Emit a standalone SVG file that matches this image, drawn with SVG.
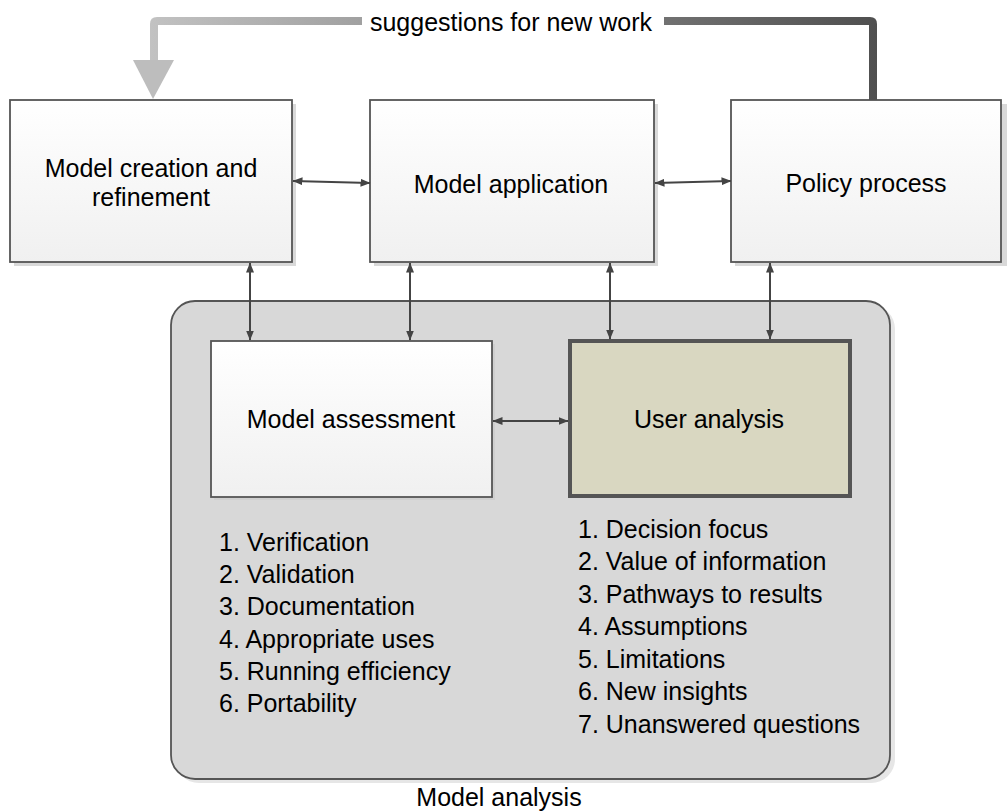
<svg xmlns="http://www.w3.org/2000/svg" width="1007" height="812" viewBox="0 0 1007 812">
<defs>
<linearGradient id="boxg" x1="0" y1="0" x2="0" y2="1">
<stop offset="0" stop-color="#ffffff"/>
<stop offset="1" stop-color="#f0f0f0"/>
</linearGradient>
<linearGradient id="sugg" gradientUnits="userSpaceOnUse" x1="150" y1="0" x2="880" y2="0">
<stop offset="0" stop-color="#c2c2c2"/>
<stop offset="1" stop-color="#4f4f4f"/>
</linearGradient>
<marker id="ah" viewBox="0 0 10 8" refX="9.5" refY="4" markerWidth="10" markerHeight="8" markerUnits="userSpaceOnUse" orient="auto-start-reverse">
<path d="M0,0 L10,4 L0,8 Z" fill="#444"/>
</marker>
</defs>
<style>
text{font-family:"Liberation Sans",Arial,sans-serif;font-size:25px;fill:#000}
.box{fill:url(#boxg);stroke:#555;stroke-width:1.8}
.shadow{fill:#d9d9d9}
.conn{stroke:#444;stroke-width:2;fill:none;marker-start:url(#ah);marker-end:url(#ah)}
.mid{text-anchor:middle}
</style>
<rect width="1007" height="812" fill="#ffffff"/>

<g id="model-analysis">
<rect x="175" y="305" width="720" height="478" rx="24" fill="#e6e6e6"/>
<rect x="171" y="301" width="719" height="478" rx="24" fill="#d8d8d8" stroke="#555" stroke-width="1.8"/>
<text x="499" y="806" class="mid">Model analysis</text>
</g>

<g id="model-creation">
<rect x="14" y="104" width="282" height="162" class="shadow"/>
<rect x="10" y="100" width="282" height="162" class="box"/>
<text x="151" y="177" class="mid">Model creation and</text>
<text x="151" y="206" class="mid">refinement</text>
</g>

<g id="model-application">
<rect x="374" y="104" width="284" height="162" class="shadow"/>
<rect x="370" y="100" width="284" height="162" class="box"/>
<text x="511" y="193" class="mid">Model application</text>
</g>

<g id="policy-process">
<rect x="735" y="104" width="272" height="162" class="shadow"/>
<rect x="731" y="100" width="270" height="162" class="box"/>
<text x="866" y="192" class="mid">Policy process</text>
</g>

<g id="model-assessment">
<rect x="214" y="344" width="281" height="156" fill="#cfcfcf"/>
<rect x="211" y="341" width="281" height="156" class="box"/>
<text x="351" y="428" class="mid">Model assessment</text>
<text x="219" y="551">1. Verification</text>
<text x="219" y="583">2. Validation</text>
<text x="219" y="615">3. Documentation</text>
<text x="219" y="648">4. Appropriate uses</text>
<text x="219" y="680">5. Running efficiency</text>
<text x="219" y="712">6. Portability</text>
</g>

<g id="user-analysis">
<rect x="570" y="341" width="280" height="155" fill="#d9d7c1" stroke="#555" stroke-width="4"/>
<text x="709" y="428" class="mid">User analysis</text>
<text x="578" y="538">1. Decision focus</text>
<text x="578" y="570">2. Value of information</text>
<text x="578" y="603">3. Pathways to results</text>
<text x="578" y="635">4. Assumptions</text>
<text x="578" y="668">5. Limitations</text>
<text x="578" y="700">6. New insights</text>
<text x="578" y="733">7. Unanswered questions</text>
</g>

<g id="connectors">
<line x1="293" y1="181" x2="370" y2="183" class="conn"/>
<line x1="655" y1="183" x2="731" y2="181" class="conn"/>
<line x1="250" y1="263" x2="250" y2="340" class="conn"/>
<line x1="410" y1="263" x2="410" y2="340" class="conn"/>
<line x1="610" y1="263" x2="610" y2="339" class="conn"/>
<line x1="770" y1="263" x2="770" y2="339" class="conn"/>
<line x1="493" y1="421" x2="568" y2="421" class="conn"/>
<g id="suggestions">
<path d="M873,100 L873,24 Q873,21 870,21 L157,21 Q154,21 154,24 L154,62" fill="none" stroke="url(#sugg)" stroke-width="8"/>
<path d="M133,60 L174,60 L153,99 Z" fill="#bdbdbd"/>
<rect x="362" y="8" width="302" height="27" fill="#ffffff"/>
<text x="511" y="31" class="mid">suggestions for new work</text>
</g>
</g>
</svg>
